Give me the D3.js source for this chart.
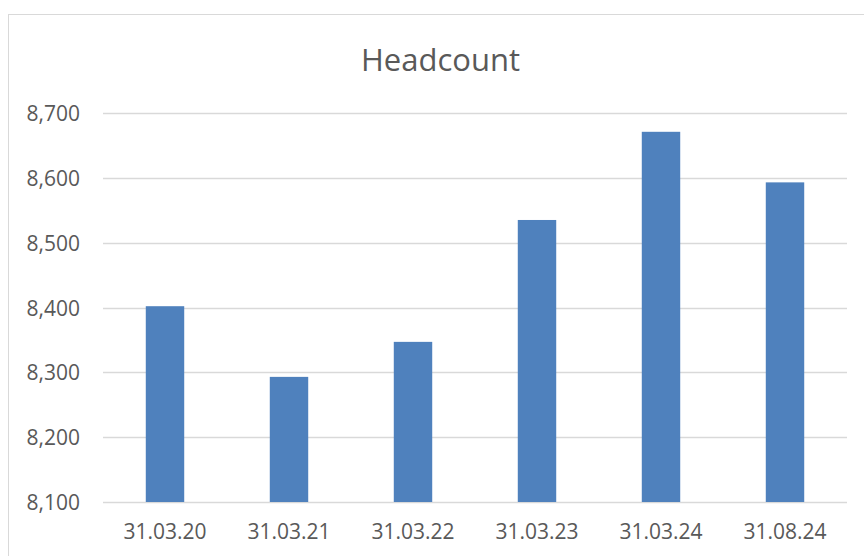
<!DOCTYPE html>
<meta charset="utf-8">
<style>
body { margin: 0; background: #fff; }
text { font-family: "Open Sans", sans-serif; fill: #595959; }
.bar { fill: #4f81bd; }
</style>
<body>
<script src="https://d3js.org/d3.v7.min.js"></script>
<script>
// chart data
var dates = ["31.03.20", "31.03.21", "31.03.22", "31.03.23", "31.03.24", "31.08.24"];
var headcount = [8402, 8293, 8347, 8535, 8671, 8593];
var yTicks = [8100, 8200, 8300, 8400, 8500, 8600, 8700];

var W = 864, H = 556;
var plotLeft = 103, plotRight = 847, plotTop = 113, plotBottom = 502;

var svg = d3.select("body").append("svg")
    .attr("width", W)
    .attr("height", H);

// chart area border
svg.append("rect")
    .attr("x", 8.5).attr("y", 14.5)
    .attr("width", 880).attr("height", 600)
    .attr("fill", "#fff")
    .attr("stroke", "#d9d9d9");

var x = d3.scaleBand()
    .domain(dates)
    .range([plotLeft, plotRight])
    .paddingInner(0.69)
    .paddingOuter(0.345);

var y = d3.scaleLinear()
    .domain([8100, 8700])
    .range([plotBottom, plotTop]);

// gridlines
svg.append("g")
  .selectAll("line")
  .data(yTicks)
  .enter().append("line")
    .attr("x1", plotLeft).attr("x2", plotRight)
    .attr("y1", function(d) { return Math.round(y(d)) + 0.5; })
    .attr("y2", function(d) { return Math.round(y(d)) + 0.5; })
    .attr("stroke", "#d9d9d9")
    .attr("stroke-width", 1.3);

// bars
svg.selectAll(".bar")
    .data(headcount)
  .enter().append("rect")
    .attr("class", "bar")
    .attr("x", function(d, i) { return x(dates[i]); })
    .attr("width", x.bandwidth())
    .attr("y", function(d) { return y(d); })
    .attr("height", function(d) { return plotBottom - y(d); });

// y axis labels
var yAxis = svg.append("g")
    .attr("transform", "translate(" + plotLeft + ",0)")
    .call(d3.axisLeft(y).tickValues(yTicks).tickFormat(d3.format(",")).tickSize(0).tickPadding(23));
yAxis.select(".domain").remove();
yAxis.selectAll("text")
    .attr("font-size", "21px")
    .attr("font-family", null)
    .attr("fill", "#595959")
    .attr("dy", "0.36em");

// x axis labels
var xAxis = svg.append("g")
    .attr("transform", "translate(0," + plotBottom + ")")
    .call(d3.axisBottom(x).tickSize(0).tickPadding(22));
xAxis.select(".domain").remove();
xAxis.selectAll("text")
    .attr("font-size", "21px")
    .attr("font-family", null)
    .attr("fill", "#595959");

// title
svg.append("text")
    .attr("x", 440.5)
    .attr("y", 71)
    .attr("text-anchor", "middle")
    .attr("font-size", "31px")
    .text("Headcount");
</script>
</body>
